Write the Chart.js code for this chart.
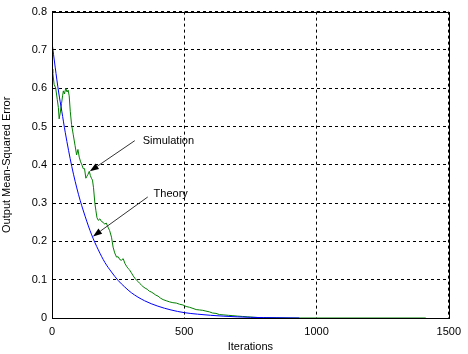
<!DOCTYPE html>
<html>
<head>
<meta charset="utf-8">
<script src="https://cdn.jsdelivr.net/npm/chart.js@4/dist/chart.umd.min.js"></script>
<style>
    body { margin: 0; background: #fff; }
    #wrap { width: 468px; height: 354px; }
</style>
</head>
<body>
<div id="wrap"><canvas id="mseChart" width="468" height="354"></canvas></div>
<script>
'use strict';

// 시뮬레이션 곡선
const simIter = [0, 3, 8, 14, 20, 24, 27, 31, 36, 40,
    43, 47, 52, 57, 61, 65, 69, 74, 80, 87,
    93, 98, 103, 108, 113, 118, 123, 128, 132, 136,
    141, 145, 149, 153, 157, 162, 166, 170, 175, 181,
    187, 193, 199, 205, 212, 218, 225, 231, 237, 244,
    250, 257, 263, 269, 276, 282, 288, 294, 300, 307,
    313, 319, 326, 332, 338, 344, 352, 360, 368, 375,
    382, 392, 401, 410, 420, 432, 445, 457, 470, 482,
    495, 507, 520, 533, 545, 558, 570, 582, 595, 607,
    620, 633, 650, 667, 684, 700, 720, 740, 760, 784,
    810, 850, 900, 1000, 1413];
const simMse = [0.65, 0.64, 0.61, 0.60, 0.57, 0.55, 0.52, 0.535, 0.56, 0.58,
    0.593, 0.585, 0.60, 0.59, 0.595, 0.58, 0.54, 0.505, 0.48, 0.451,
    0.426, 0.44, 0.42, 0.408, 0.40, 0.39, 0.39, 0.365, 0.37, 0.375,
    0.383, 0.372, 0.365, 0.36, 0.34, 0.30, 0.28, 0.262, 0.255, 0.259,
    0.252, 0.25, 0.245, 0.248, 0.237, 0.228, 0.211, 0.185, 0.17, 0.159,
    0.16, 0.152, 0.151, 0.155, 0.142, 0.135, 0.129, 0.125, 0.118, 0.11,
    0.104, 0.099, 0.095, 0.09, 0.086, 0.082, 0.078, 0.075, 0.07, 0.068,
    0.065, 0.06, 0.057, 0.052, 0.048, 0.045, 0.042, 0.04, 0.039, 0.036,
    0.034, 0.03, 0.028, 0.025, 0.022, 0.021, 0.02, 0.018, 0.016, 0.013,
    0.012, 0.009, 0.008, 0.007, 0.006, 0.005, 0.004, 0.003, 0.002, 0.001,
    0.001, 0.0005, 0, 0, 0];

// 이론 곡선
const theoryIter = [0, 12, 25, 37, 50, 75, 100, 125, 150, 175, 200, 225,
    250, 275, 300, 350, 400, 450, 500, 550, 600, 700, 800, 935];
const theoryMse = [0.72, 0.655, 0.59, 0.54, 0.485, 0.395, 0.323, 0.266, 0.217, 0.178, 0.145, 0.12,
    0.098, 0.081, 0.066, 0.045, 0.031, 0.021, 0.014, 0.01, 0.007, 0.003, 0.001, 0];

// 눈금
const xTicks = [0, 500, 1000, 1500];
const yTicks = [0, 0.1, 0.2, 0.3, 0.4, 0.5, 0.6, 0.7, 0.8];

// 주석 (데이터 좌표)
const notes = [
    { text: 'Simulation', tip: [143, 0.383], tail: [313, 0.463], label: [343, 0.463] },
    { text: 'Theory', tip: [155, 0.213], tail: [362, 0.316], label: [384, 0.323] }
];

const FONT = { family: '"Liberation Sans", Arial, sans-serif', size: 11 };

const toPoints = (xs, ys) => xs.map((x, i) => ({ x: x, y: ys[i] }));

// 테두리 + 화살표 주석
const boxAndNotes = {
    id: 'boxAndNotes',
    afterDraw(chart) {
        const { ctx, chartArea: a, scales: { x, y } } = chart;
        ctx.save();
        ctx.strokeStyle = '#000';
        ctx.lineWidth = 1;
        ctx.setLineDash([]);
        ctx.strokeRect(Math.round(a.left) + 0.5, Math.round(a.top) + 0.5,
            Math.round(a.right - a.left), Math.round(a.bottom - a.top));

        notes.forEach(n => {
            const tx = x.getPixelForValue(n.tip[0]), ty = y.getPixelForValue(n.tip[1]);
            const sx = x.getPixelForValue(n.tail[0]), sy = y.getPixelForValue(n.tail[1]);
            const ang = Math.atan2(ty - sy, tx - sx);
            const len = 9, half = 3.2;
            const bx = tx - len * Math.cos(ang), by = ty - len * Math.sin(ang);
            ctx.strokeStyle = '#333';
            ctx.beginPath();
            ctx.moveTo(sx, sy);
            ctx.lineTo(bx, by);
            ctx.stroke();
            ctx.fillStyle = '#000';
            ctx.beginPath();
            ctx.moveTo(tx, ty);
            ctx.lineTo(bx + half * Math.sin(ang), by - half * Math.cos(ang));
            ctx.lineTo(bx - half * Math.sin(ang), by + half * Math.cos(ang));
            ctx.closePath();
            ctx.fill();

            ctx.font = `${FONT.size}px ${FONT.family}`;
            ctx.textAlign = 'left';
            ctx.textBaseline = 'middle';
            ctx.fillStyle = '#000';
            ctx.fillText(n.text, x.getPixelForValue(n.label[0]), y.getPixelForValue(n.label[1]));
        });
        ctx.restore();
    }
};

const gridStyle = {
    color: '#000',
    drawTicks: false,
    lineWidth: 1
};

new Chart(document.getElementById('mseChart'), {
    type: 'line',
    data: {
        datasets: [{
            label: 'Simulation',
            data: toPoints(simIter, simMse),
            borderColor: '#008000',
            borderWidth: 1,
            pointRadius: 0,
            tension: 0,
            order: 1
        }, {
            label: 'Theory',
            data: toPoints(theoryIter, theoryMse),
            borderColor: '#0000ff',
            borderWidth: 1,
            pointRadius: 0,
            cubicInterpolationMode: 'monotone',
            order: 0
        }]
    },
    options: {
        responsive: false,
        animation: false,
        layout: { padding: { top: 8, right: 18, left: 0, bottom: 0 } },
        plugins: {
            legend: { display: false },
            tooltip: { enabled: false }
        },
        scales: {
            x: {
                type: 'linear',
                min: 0,
                max: 1500,
                afterBuildTicks: s => { s.ticks = xTicks.map(v => ({ value: v })); },
                afterFit: s => { s.height = 36; },
                grid: gridStyle,
                border: { display: true, color: '#000', dash: [3, 3] },
                ticks: { font: FONT, color: '#000', padding: 7, maxRotation: 0, callback: v => String(v) },
                title: { display: true, text: 'Iterations', font: FONT, color: '#000', padding: { top: 0, bottom: 0 } }
            },
            y: {
                type: 'linear',
                min: 0,
                max: 0.8,
                afterBuildTicks: s => { s.ticks = yTicks.map(v => ({ value: v })); },
                afterFit: s => { s.width = 52; },
                grid: gridStyle,
                border: { display: true, color: '#000', dash: [3, 3] },
                ticks: { font: FONT, color: '#000', padding: 5, callback: v => String(v) },
                title: { display: true, text: 'Output Mean-Squared Error', font: FONT, color: '#000', padding: { top: 0, bottom: 0 } }
            }
        }
    },
    plugins: [boxAndNotes]
});
</script>
</body>
</html>
